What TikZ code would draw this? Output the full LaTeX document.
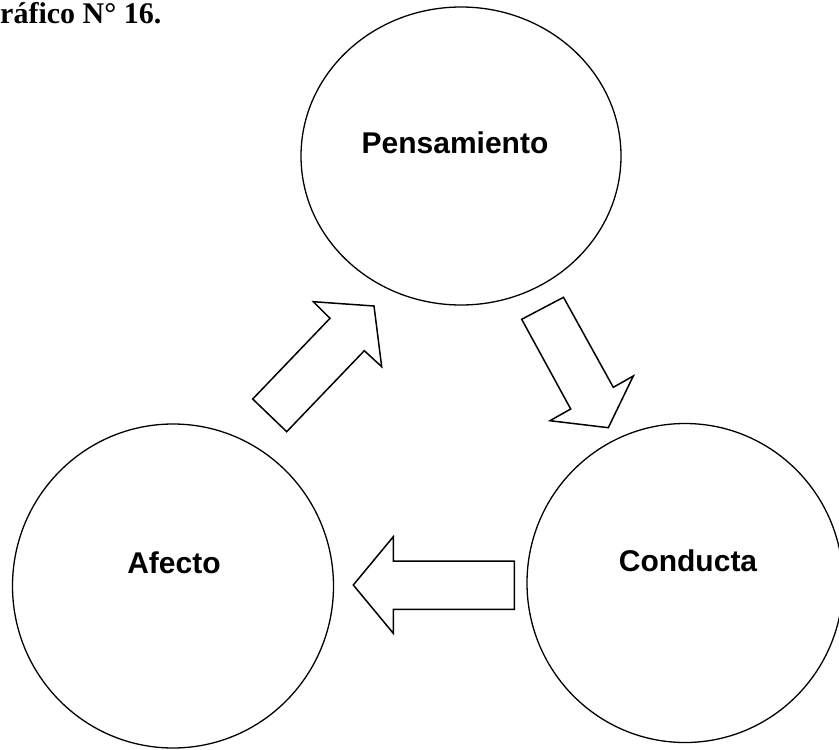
\documentclass[tikz,border=0pt]{standalone}
\usepackage{fontspec}
\setmainfont{Liberation Serif}
\setsansfont{Liberation Sans}
\usetikzlibrary{shapes.geometric}

\tikzset{
  blob/.style={ellipse,draw,line width=1.3pt,inner sep=0pt},
  etiq/.style={font=\sffamily\bfseries\fontsize{30}{36}\selectfont,anchor=base,inner sep=0pt},
  flecha/.style={draw,line width=1.5pt,line join=miter,fill=white}
}

\begin{document}
\begin{tikzpicture}[x=1pt,y=-1pt]
\useasboundingbox (0,0) rectangle (839,750);

\node[anchor=base west,inner sep=0pt,font=\rmfamily\bfseries\fontsize{30}{36}\selectfont]
  (titulo) at (0,23) {ráfico N° 16.};

\node[blob,minimum width=320pt,minimum height=298pt] (penso) at (461,156) {};
\node[blob,minimum width=321pt,minimum height=324pt] (afecto) at (173,586) {};
\node[blob,minimum width=316pt,minimum height=319pt] (conducta) at (685,583) {};

\node[etiq] (tpenso) at (455,153) {Pensamiento};
\node[etiq] (tafecto) at (174,573) {Afecto};
\node[etiq] (tconducta) at (688,571) {Conducta};

% afecto -> pensamiento
\draw[flecha]
(252.7,399) -- (286.7,431.7) -- (364.3,350.7) -- (381.7,366.7) --
(374,306) -- (313.3,301.7) -- (330,318.3) -- cycle;

% pensamiento -> conducta
\draw[flecha]
(521.7,319.3) -- (563.5,297.3) -- (613.3,387.3) -- (633.3,376) --
(608.3,427.7) -- (550,420.7) -- (570.7,409) -- cycle;

% conducta -> afecto
\draw[flecha]
(514.3,561) -- (393.3,561) -- (393.3,536.7) -- (353.3,585) --
(393.3,633.3) -- (393.3,609.3) -- (514.3,609.3) -- cycle;

\end{tikzpicture}
\end{document}
